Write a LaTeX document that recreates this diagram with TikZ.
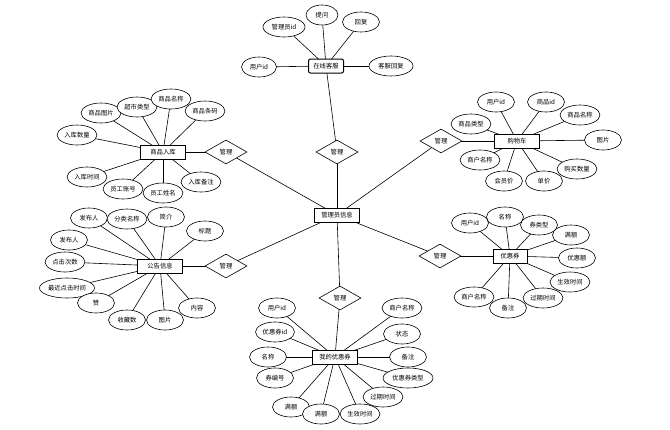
\documentclass[tikz,border=0pt]{standalone}
\usepackage{fontspec}
\setmainfont{Noto Sans CJK SC}
\usetikzlibrary{shapes.geometric,backgrounds}
\begin{document}
\begin{tikzpicture}[x=1pt,y=-1pt,
  lbl/.style={font=\fontsize{6.3}{7}\selectfont},
  attr/.style={ellipse,draw,line width=0.6pt,fill=white,minimum width=37pt,minimum height=20pt,inner xsep=1.5pt,inner ysep=1pt,lbl},
  ent/.style={rectangle,draw,line width=1pt,fill=white,minimum width=45pt,minimum height=14pt,inner sep=1pt,lbl},
  rel/.style={diamond,draw,line width=0.6pt,fill=white,minimum width=42pt,minimum height=24pt,inner sep=0pt,lbl},
  conn/.style={line width=0.6pt}]
\useasboundingbox (0,0) rectangle (670,429);
% centre
\node[ent] (admin) at (337,215) {管理员信息};
% relations
\node[rel] (r1) at (337,152) {管理};
\node[rel] (r2) at (226,152) {管理};
\node[rel] (r3) at (226,266) {管理};
\node[rel] (r4) at (441,141) {管理};
\node[rel] (r5) at (440,256) {管理};
\node[rel] (r6) at (340,298) {管理};
% entities
\node[ent,minimum width=35pt,rounded corners=2pt] (kf) at (326,66) {在线客服};
\node[ent] (rk) at (163,152) {商品入库};
\node[ent] (gwc) at (517,141) {购物车};
\node[ent] (gg) at (160,266) {公告信息};
\node[ent,minimum width=34pt] (yhq) at (510,256) {优惠券};
\node[ent] (wd) at (335,357) {我的优惠券};
% 在线客服 attributes
\node[attr,minimum width=42pt] (kf1) at (284,27) {管理员id};
\node[attr,minimum width=32pt] (kf2) at (322,15) {提问};
\node[attr] (kf3) at (361,22) {回复};
\node[attr,minimum width=35pt] (kf4) at (259,67) {用户id};
\node[attr,minimum width=44pt] (kf5) at (391,66) {客服回复};
% 商品入库 attributes
\node[attr] (rk1) at (101,113) {商品图片};
\node[attr] (rk2) at (137,107) {超市类型};
\node[attr] (rk3) at (171,99) {商品名称};
\node[attr] (rk4) at (205,111) {商品条码};
\node[attr] (rk5) at (77,135) {入库数量};
\node[attr] (rk6) at (87,177) {入库时间};
\node[attr] (rk7) at (123,189) {员工账号};
\node[attr] (rk8) at (163,193) {员工姓名};
\node[attr] (rk9) at (201,182) {入库备注};
% 购物车 attributes
\node[attr] (g1) at (496,102) {用户id};
\node[attr] (g2) at (546,102) {商品id};
\node[attr] (g3) at (471,124) {商品类型};
\node[attr] (g4) at (580,115) {商品名称};
\node[attr] (g5) at (603,140) {图片};
\node[attr] (g6) at (577,169) {购买数量};
\node[attr] (g7) at (544,181) {单价};
\node[attr] (g8) at (504,181) {会员价};
\node[attr] (g9) at (480,160) {商户名称};
% 公告信息 attributes
\node[attr] (a1) at (89,218) {发布人};
\node[attr] (a2) at (127,219) {分类名称};
\node[attr] (a3) at (166,217) {简介};
\node[attr] (a4) at (205,231) {标题};
\node[attr] (a5) at (69,240) {发布人};
\node[attr] (a6) at (65,262) {点击次数};
\node[attr,inner xsep=0pt,minimum width=55pt] (a7) at (67,288) {最近点击时间};
\node[attr] (a8) at (96,303) {赞};
\node[attr] (a9) at (127,320) {收藏数};
\node[attr] (a10) at (165,320) {图片};
\node[attr] (a11) at (197,308) {内容};
% 优惠券 attributes
\node[attr] (y1) at (470,223) {用户id};
\node[attr] (y2) at (505,217) {名称};
\node[attr] (y3) at (539,225) {券类型};
\node[attr] (y4) at (571,235) {满额};
\node[attr] (y5) at (577,258) {优惠额};
\node[attr] (y6) at (570,282) {生效时间};
\node[attr] (y7) at (543,298) {过期时间};
\node[attr] (y8) at (508,308) {备注};
\node[attr] (y9) at (474,297) {商户名称};
% 我的优惠券 attributes
\node[attr] (w1) at (277,308) {用户id};
\node[attr] (w2) at (275,332) {优惠券id};
\node[attr] (w3) at (268,357) {名称};
\node[attr] (w4) at (275,378) {券编号};
\node[attr] (w5) at (291,407) {满额};
\node[attr] (w6) at (321,414) {满额};
\node[attr] (w7) at (360,414) {生效时间};
\node[attr] (w8) at (383,397) {过期时间};
\node[attr,inner xsep=0pt,minimum width=50pt] (w9) at (408,378) {优惠券类型};
\node[attr] (w10) at (408,357) {备注};
\node[attr] (w11) at (402,334) {状态};
\node[attr] (w12) at (402,308) {商户名称};
\begin{pgfonlayer}{background}
\foreach \e/\r in {kf/r1,rk/r2,gg/r3,gwc/r4,yhq/r5,wd/r6}{
  \draw[conn] (\e.center) -- (\r.center);
  \draw[conn] (\r.center) -- (admin.center);
}
\foreach \i in {1,...,5}{\draw[conn] (kf.center) -- (kf\i.center);}
\foreach \i in {1,...,9}{\draw[conn] (rk.center) -- (rk\i.center);}
\foreach \i in {1,...,9}{\draw[conn] (gwc.center) -- (g\i.center);}
\foreach \i in {1,...,11}{\draw[conn] (gg.center) -- (a\i.center);}
\foreach \i in {1,...,9}{\draw[conn] (yhq.center) -- (y\i.center);}
\foreach \i in {1,...,12}{\draw[conn] (wd.center) -- (w\i.center);}
\end{pgfonlayer}
\end{tikzpicture}
\end{document}
